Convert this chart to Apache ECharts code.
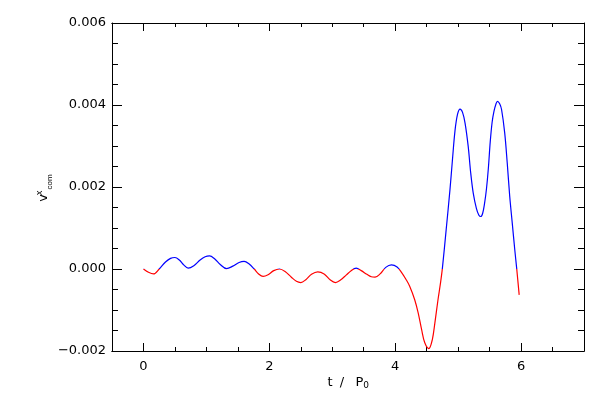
<!DOCTYPE html>
<html>
<head>
<meta charset="utf-8">
<script src="https://cdn.jsdelivr.net/npm/echarts@6/dist/echarts.min.js"></script>
<style>html,body{margin:0;padding:0;background:#fff}#c{width:600px;height:400px}</style>
</head>
<body>
<div id="c"></div>
<script>
// time in units of P0
var tValues = [0,0.08,0.16,0.25,0.35,0.43,0.50,0.57,0.64,0.71,0.80,0.90,0.98,1.05,1.13,1.22,1.32,1.42,1.52,1.60,1.68,1.76,1.83,1.90,1.98,2.07,2.16,2.25,2.35,2.43,2.50,2.58,2.67,2.77,2.87,2.97,3.05,3.13,3.22,3.30,3.38,3.46,3.55,3.62,3.68,3.76,3.85,3.94,4.03,4.10,4.17,4.23,4.31,4.365,4.42,4.47,4.535,4.59,4.63,4.68,4.72,4.75,4.81,4.87,4.91,4.95,4.99,5.03,5.07,5.11,5.16,5.20,5.24,5.29,5.33,5.36,5.39,5.42,5.45,5.48,5.51,5.54,5.57,5.60,5.625,5.66,5.69,5.74,5.78,5.82,5.86,5.90,5.93,5.97];
// v^x_com values
var vValues = [0,-0.00008,-0.00012,0.0,0.00017,0.00026,0.00028,0.00022,0.00010,0.00002,0.00008,0.00022,0.00030,0.00032,0.00025,0.00011,0.00001,0.00007,0.00016,0.000185,0.00012,0.0,-0.00012,-0.00018,-0.00014,-0.00004,0.0,-0.00006,-0.00020,-0.00030,-0.00033,-0.00026,-0.00013,-0.00007,-0.00012,-0.00027,-0.00033,-0.00027,-0.00015,-0.00004,0.00002,-0.00004,-0.00013,-0.00019,-0.00020,-0.00012,0.00004,0.00010,0.00005,-0.00008,-0.00025,-0.00042,-0.00075,-0.00107,-0.00148,-0.00180,-0.00194,-0.00172,-0.00132,-0.00075,-0.00034,0.00002,0.00096,0.00193,0.00267,0.00337,0.00377,0.00390,0.00382,0.00356,0.00299,0.00234,0.00185,0.00148,0.00131,0.00128,0.00136,0.00160,0.00195,0.00245,0.00310,0.00358,0.00385,0.00402,0.00409,0.00403,0.00389,0.00332,0.00259,0.00177,0.00112,0.00047,0.00002,-0.00063];
var xMajorTicks = [0,2,4,6];
var xMinorTicks = [-0.5,0.5,1,1.5,2.5,3,3.5,4.5,5,5.5,6.5,7];

var data = tValues.map(function(t,i){return [t, vValues[i]];});
var chart = echarts.init(document.getElementById('c'), null, {renderer:'canvas'});
var font = 'DejaVu Sans';
function xAxisDef(pos, vals, len, labels){
  return {type:'value', position:pos, min:-0.5, max:7,
    axisLine:{show:true, onZero:false, lineStyle:{color:'#000', width:1}},
    axisTick:{show:true, inside:true, length:len, customValues:vals, lineStyle:{color:'#000'}},
    axisLabel:{show:labels, customValues:vals, margin:9, color:'#000', fontFamily:font, fontSize:13},
    splitLine:{show:false}};
}
function yAxisDef(pos, labels){
  return {type:'value', position:pos, min:-0.002, max:0.006, interval:0.002,
    axisLine:{show:true, onZero:false, lineStyle:{color:'#000', width:1}},
    axisTick:{show:true, inside:true, length:10, lineStyle:{color:'#000'}},
    minorTick:{show:true, splitNumber:4, length:6, lineStyle:{color:'#000'}},
    axisLabel:{show:labels, margin:6, color:'#000', fontFamily:font, fontSize:13,
      formatter:function(v){var s=Math.abs(v).toFixed(3); return (v<-1e-9?'\u2212':'')+s;}},
    splitLine:{show:false}, minorSplitLine:{show:false}};
}
chart.setOption({
  animation:false,
  backgroundColor:'#fff',
  grid:{left:112, right:16, top:23, bottom:49},
  xAxis:[xAxisDef('bottom', xMajorTicks, 8, true), xAxisDef('bottom', xMinorTicks, 4, false),
         xAxisDef('top', xMajorTicks, 8, false), xAxisDef('top', xMinorTicks, 4, false)],
  yAxis:[yAxisDef('left', true), yAxisDef('right', false)],
  visualMap:{show:false, type:'piecewise', dimension:1, seriesIndex:0,
    pieces:[{gte:-0.01, lt:0, color:'#ff0000'},{gte:0, lte:0.01, color:'#0000ff'}]},
  series:[{type:'line', data:data, xAxisIndex:0, yAxisIndex:0, showSymbol:false, smooth:0.35,
    lineStyle:{width:1.2}}],
  graphic:[
    {type:'text', x:44, y:198, rotation:Math.PI/2, style:{text:'v', font:'13px "DejaVu Sans"', fill:'#000', align:'center', verticalAlign:'middle'}},
    {type:'text', x:39.5, y:193, rotation:Math.PI/2, style:{text:'x', font:'8px "DejaVu Sans"', fill:'#000', align:'center', verticalAlign:'middle'}},
    {type:'text', x:50, y:182, rotation:Math.PI/2, style:{text:'com', font:'8px "Liberation Sans"', fill:'#000', align:'center', verticalAlign:'middle'}},
    {type:'text', x:330, y:383, style:{text:'t', font:'13px "DejaVu Sans"', fill:'#000', align:'center', verticalAlign:'middle'}},
    {type:'text', x:342, y:383, style:{text:'/', font:'13px "DejaVu Sans"', fill:'#000', align:'center', verticalAlign:'middle'}},
    {type:'text', x:359.5, y:383, style:{text:'P', font:'13px "DejaVu Sans"', fill:'#000', align:'center', verticalAlign:'middle'}},
    {type:'text', x:366, y:386, style:{text:'0', font:'9px "DejaVu Sans"', fill:'#000', align:'center', verticalAlign:'middle'}}
  ]
});
</script>
</body>
</html>
